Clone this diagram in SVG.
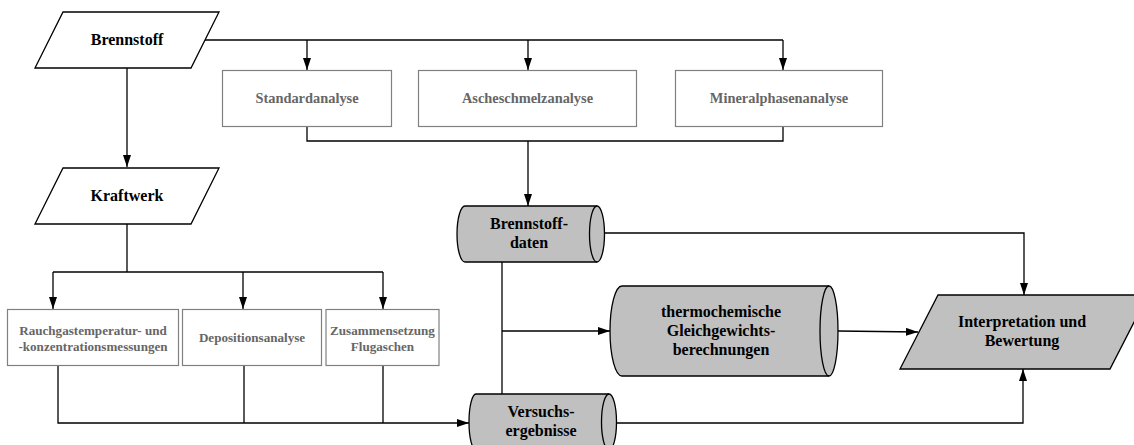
<svg xmlns="http://www.w3.org/2000/svg" width="1134" height="445" viewBox="0 0 1134 445">
<style>
.bg{fill:#ffffff}
.para{fill:#ffffff;stroke:#000;stroke-width:1.3}
.gpara{fill:#c0c0c0;stroke:#000;stroke-width:1.3}
.cyl{fill:#c0c0c0;stroke:#000;stroke-width:1.3}
.cylin{fill:none;stroke:#000;stroke-width:1.3}
.box{fill:#ffffff;stroke:#808080;stroke-width:1.2}
.t{font-family:"Liberation Serif","Times New Roman",serif;font-weight:bold;font-size:16px;fill:#000;text-anchor:middle}
.g{font-family:"Liberation Serif","Times New Roman",serif;font-weight:bold;font-size:14.4px;fill:#666;text-anchor:middle}
.gs{font-family:"Liberation Serif","Times New Roman",serif;font-weight:bold;font-size:13.1px;fill:#666;text-anchor:middle}
.c{fill:none;stroke:#000;stroke-width:1.3}
</style>
<defs>
<marker id="arr" viewBox="0 0 12 8" refX="12" refY="4" markerWidth="12" markerHeight="8" orient="auto" markerUnits="userSpaceOnUse">
<path d="M0,0 L12,4 L0,8 z" fill="#000"/>
</marker>
</defs>
<rect class="bg" x="0" y="0" width="1134" height="445"/>

<g id="connectors">
<path class="c" d="M205,40 H783"/>
<path class="c" d="M307,40 V70" marker-end="url(#arr)"/>
<path class="c" d="M528,40 V70" marker-end="url(#arr)"/>
<path class="c" d="M783,40 V70" marker-end="url(#arr)"/>
<path class="c" d="M127,68 V167" marker-end="url(#arr)"/>
<path class="c" d="M307,127 V141 H783 V127"/>
<path class="c" d="M528,141 V206" marker-end="url(#arr)"/>
<path class="c" d="M605,233 H1024 V295" marker-end="url(#arr)"/>
<path class="c" d="M502,262 V394"/>
<path class="c" d="M502,331 H610" marker-end="url(#arr)"/>
<path class="c" d="M838,331 L918,332" marker-end="url(#arr)"/>
<path class="c" d="M617,423 H1023 V369" marker-end="url(#arr)"/>
<path class="c" d="M127,224 V272"/>
<path class="c" d="M53,272 H383"/>
<path class="c" d="M53,272 V309" marker-end="url(#arr)"/>
<path class="c" d="M243,272 V309" marker-end="url(#arr)"/>
<path class="c" d="M383,272 V309" marker-end="url(#arr)"/>
<path class="c" d="M58,366 V423 H469" marker-end="url(#arr)"/>
<path class="c" d="M244,366 V423"/>
<path class="c" d="M383,366 V423"/>
</g>

<g id="brennstoff">
<polygon class="para" points="63,12 219,12 191,68 35,68"/>
<text class="t" x="127" y="45">Brennstoff</text>
</g>

<g id="kraftwerk">
<polygon class="para" points="63,168 219,168 191,224 35,224"/>
<text class="t" x="127" y="201">Kraftwerk</text>
</g>

<g id="standardanalyse">
<rect class="box" x="222.5" y="70.5" width="169" height="56"/>
<text class="g" x="307" y="103">Standardanalyse</text>
</g>

<g id="ascheschmelzanalyse">
<rect class="box" x="418.5" y="70.5" width="218" height="56"/>
<text class="g" x="527.5" y="103">Ascheschmelzanalyse</text>
</g>

<g id="mineralphasenanalyse">
<rect class="box" x="675.5" y="70.5" width="207" height="56"/>
<text class="g" x="779" y="103">Mineralphasenanalyse</text>
</g>

<g id="brennstoffdaten">
<path class="cyl" d="M465,206 L597,206 A7.5,28 0 0 1 597,262 L465,262 A8,28 0 0 1 465,206 Z"/>
<path class="cylin" d="M597,206 A7.5,28 0 0 0 597,262"/>
<text class="t" x="529" y="229">Brennstoff-</text>
<text class="t" x="529" y="248">daten</text>
</g>

<g id="thermochemische">
<path class="cyl" d="M622,286 L829,286 A9,45 0 0 1 829,376 L622,376 A12,45 0 0 1 622,286 Z"/>
<path class="cylin" d="M829,286 A9,45 0 0 0 829,376"/>
<text class="t" x="721" y="317">thermochemische</text>
<text class="t" x="721" y="336">Gleichgewichts-</text>
<text class="t" x="721" y="355">berechnungen</text>
</g>

<g id="interpretation">
<polygon class="gpara" points="938,295 1148,295 1110,369 900,369"/>
<text class="t" x="1022" y="327">Interpretation und</text>
<text class="t" x="1022" y="346">Bewertung</text>
</g>

<g id="versuchsergebnisse">
<path class="cyl" d="M476,394 L609,394 A7.5,28 0 0 1 609,450 L476,450 A7,28 0 0 1 476,394 Z"/>
<path class="cylin" d="M609,394 A7.5,28 0 0 0 609,450"/>
<text class="t" x="541" y="417">Versuchs-</text>
<text class="t" x="541" y="436">ergebnisse</text>
</g>

<g id="rauchgas">
<rect class="box" x="7.5" y="309.5" width="171" height="56"/>
<text class="gs" x="93" y="335">Rauchgastemperatur- und</text>
<text class="gs" x="93" y="351">-konzentrationsmessungen</text>
</g>

<g id="deposition">
<rect class="box" x="182.5" y="309.5" width="139" height="56"/>
<text class="gs" x="252" y="342">Depositionsanalyse</text>
</g>

<g id="zusammensetzung">
<rect class="box" x="326" y="309.5" width="113" height="56"/>
<text class="gs" x="382.5" y="335">Zusammensetzung</text>
<text class="gs" x="382.5" y="351">Flugaschen</text>
</g>
</svg>
